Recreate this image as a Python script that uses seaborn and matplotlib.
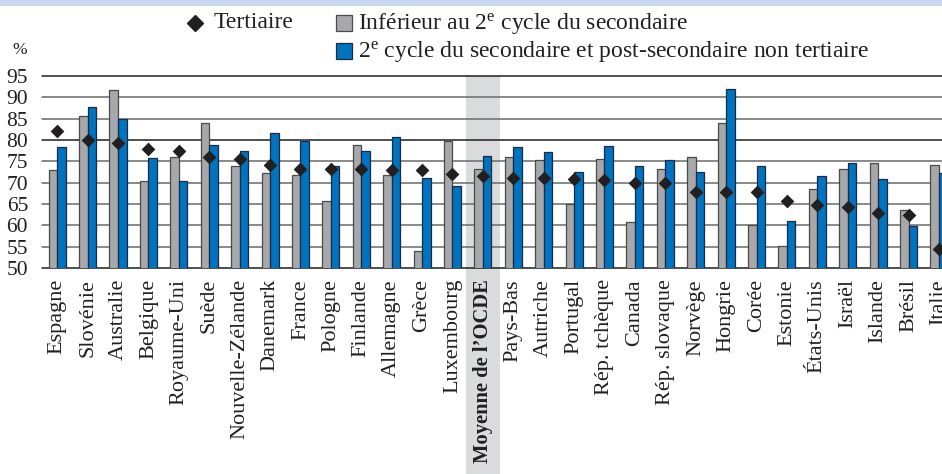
import numpy as np
import pandas as pd
import matplotlib
matplotlib.use("Agg")
import matplotlib.pyplot as plt
import matplotlib.transforms as mtransforms
from matplotlib.patches import Rectangle
from matplotlib.lines import Line2D
import seaborn as sns

# ---------------- data ----------------
countries = ["Espagne", "Slovénie", "Australie", "Belgique", "Royaume-Uni", "Suède",
             "Nouvelle-Zélande", "Danemark", "France", "Pologne", "Finlande", "Allemagne",
             "Grèce", "Luxembourg", "Moyenne de l’OCDE", "Pays-Bas", "Autriche", "Portugal",
             "Rép. tchèque", "Canada", "Rép. slovaque", "Norvège", "Hongrie", "Corée",
             "Estonie", "États-Unis", "Israël", "Islande", "Brésil", "Italie"]
below_upper_secondary = [72.9, 85.7, 91.7, 70.3, 76.1, 83.9, 74.0, 72.2, 71.9, 65.6,
                         78.9, 71.7, 53.9, 79.8, 73.1, 75.9, 75.2, 65.0, 75.6, 60.8,
                         73.2, 75.9, 84.1, 60.0, 55.2, 68.5, 73.3, 74.5, 63.6, 74.1]
upper_secondary = [78.3, 87.7, 84.9, 75.8, 70.3, 78.8, 77.5, 81.7, 79.8, 74.0,
                   77.5, 80.8, 71.1, 69.3, 76.3, 78.3, 77.1, 72.5, 78.7, 74.0,
                   75.3, 72.4, 91.9, 74.0, 61.1, 71.5, 74.6, 70.8, 59.9, 72.2]
tertiary = [82.0, 80.0, 79.3, 77.8, 77.5, 76.1, 75.5, 74.2, 73.2, 73.2,
            73.2, 72.9, 72.9, 72.0, 71.5, 71.1, 71.0, 70.9, 70.6, 70.0,
            69.9, 67.9, 67.9, 67.7, 65.8, 64.7, 64.4, 63.0, 62.5, 54.5]
series_names = ["Inférieur au 2$^{\\mathrm{e}}$ cycle du secondaire",
                "2$^{\\mathrm{e}}$ cycle du secondaire et post-secondaire non tertiaire"]
tertiary_name = "Tertiaire"
highlight = "Moyenne de l’OCDE"
y_ticks = [50, 55, 60, 65, 70, 75, 80, 85, 90, 95]
unit_label = "%"

# ---------------- style ----------------
sns.set_theme(style="white")
plt.rcParams["font.family"] = ["Liberation Serif", "DejaVu Serif"]
plt.rcParams["mathtext.fontset"] = "custom"
plt.rcParams["mathtext.rm"] = "Liberation Serif"
plt.rcParams["mathtext.it"] = "Liberation Serif:italic"
plt.rcParams["mathtext.bf"] = "Liberation Serif:bold"

TXT = "#231f20"
GRAY = "#a7a8ab"
BLUE = "#0073bf"
FS_TICK = 16
FS_BOLD = 14.8
FS_Y = 15.5
FS_LEG = 17

W, H = 942, 474
fig = plt.figure(figsize=(W / 100, H / 100), dpi=100)
fig.patch.set_facecolor("white")

def fx(px):
    return px / W

def fy(py):
    return 1 - py / H

ax_left, ax_right, ax_top, ax_bottom = 42, 942, 76, 268
ax = fig.add_axes([fx(ax_left), fy(ax_bottom), fx(ax_right - ax_left), (ax_bottom - ax_top) / H])

df = pd.DataFrame({
    "pays": countries * 2,
    "serie": [series_names[0]] * len(countries) + [series_names[1]] * len(countries),
    "valeur": below_upper_secondary + upper_secondary,
})

sns.barplot(data=df, x="pays", y="valeur", hue="serie", order=countries,
            hue_order=series_names, palette=[GRAY, BLUE], width=0.56, gap=0,
            saturation=1, legend=False, ax=ax, zorder=2)
for cont, ec in zip(ax.containers, ["#4a4a4a", "#1b2a45"]):
    for p in cont:
        p.set_edgecolor(ec)
        p.set_linewidth(0.9)

sns.stripplot(x=countries, y=tertiary, order=countries, jitter=False, marker="D",
              size=7.0, color="#231f20", linewidth=0, ax=ax, zorder=4)

ax.set_ylim(50, 95)
ax.set_xlim(-0.5, 29.1)
ax.set_yticks(y_ticks)
ax.set_xlabel("")
ax.set_ylabel("")
for s in ax.spines.values():
    s.set_visible(False)

# grid lines
for yv in y_ticks:
    dark = yv in (50, 80, 95)
    ax.axhline(yv, color="#1e1e1e" if dark else "#6a6a6a", lw=1.1, zorder=1.5, clip_on=False)

# OCDE highlight band (extends down behind its label)
i_h = countries.index(highlight)
trans = mtransforms.blended_transform_factory(ax.transData, fig.transFigure)
band = Rectangle((i_h - 0.55, 0), 1.1, fy(ax_top), transform=trans,
                 facecolor="#dadbdc", edgecolor="none", zorder=0.2, clip_on=False)
ax.add_patch(band)
ax.set_axisbelow(True)
ax.patch.set_alpha(0)

ax.tick_params(axis="both", length=0, colors=TXT)
ax.tick_params(axis="x", pad=8, labelsize=FS_TICK)
ax.tick_params(axis="y", pad=10, labelsize=FS_Y)
ax.set_xticks(range(len(countries)))
ax.set_xticklabels(countries, rotation=90, ha="center", va="top", fontsize=FS_TICK, color=TXT)
for lab in ax.get_xticklabels():
    if lab.get_text() == highlight:
        lab.set_fontweight("bold")
        lab.set_fontsize(FS_BOLD)

# top banner
fig.patches.append(Rectangle((0, fy(6)), 1, 6 / H, transform=fig.transFigure,
                             facecolor="#c9d9ef", edgecolor="none"))

# unit label
fig.text(fx(12), fy(50), unit_label, fontsize=FS_Y - 3, color=TXT, va="center", ha="left")

# legend (built manually to match layout)
fig.add_artist(Line2D([fx(195)], [fy(23)], marker="D", markersize=8, color="#231f20",
                      linestyle="none", transform=fig.transFigure))
fig.text(fx(214), fy(23), tertiary_name, fontsize=FS_LEG, color=TXT, va="center", ha="left")
for (ytop, col, ec, name) in [(15, GRAY, "#4a4a4a", series_names[0]),
                              (43, BLUE, "#1b2a45", series_names[1])]:
    fig.patches.append(Rectangle((fx(336), fy(ytop + 16)), fx(16), 16 / H,
                                 transform=fig.transFigure, facecolor=col,
                                 edgecolor=ec, linewidth=0.9))
    fig.text(fx(358), fy(ytop + 8), name, fontsize=FS_LEG, color=TXT, va="center", ha="left")

fig.savefig("out.png", dpi=100)
